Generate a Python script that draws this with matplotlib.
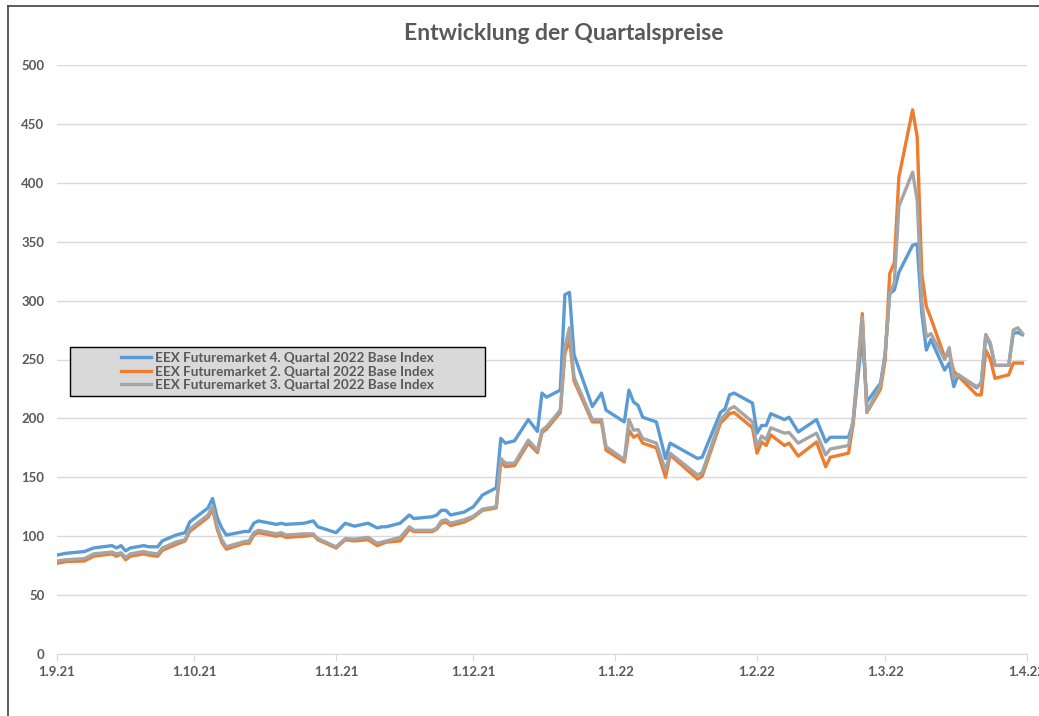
import pandas as pd
import matplotlib
matplotlib.use("Agg")
from matplotlib import pyplot as plt
from matplotlib.patches import Rectangle
from matplotlib.lines import Line2D

# dates of the drawn vertices (trading days)
dates = [
    "2021-09-01", "2021-09-03", "2021-09-07", "2021-09-09", "2021-09-13", "2021-09-14",
    "2021-09-15", "2021-09-16", "2021-09-17", "2021-09-20", "2021-09-21", "2021-09-23",
    "2021-09-24", "2021-09-27", "2021-09-29", "2021-09-30", "2021-10-04", "2021-10-05",
    "2021-10-06", "2021-10-07", "2021-10-08", "2021-10-12", "2021-10-13", "2021-10-14",
    "2021-10-15", "2021-10-19", "2021-10-20", "2021-10-21", "2021-10-25", "2021-10-27",
    "2021-10-28", "2021-11-01", "2021-11-03", "2021-11-05", "2021-11-08", "2021-11-10",
    "2021-11-11", "2021-11-12", "2021-11-15", "2021-11-17", "2021-11-18", "2021-11-22",
    "2021-11-23", "2021-11-24", "2021-11-25", "2021-11-26", "2021-11-29", "2021-12-01",
    "2021-12-03", "2021-12-06", "2021-12-07", "2021-12-08", "2021-12-10", "2021-12-13",
    "2021-12-15", "2021-12-16", "2021-12-17", "2021-12-20", "2021-12-21", "2021-12-22",
    "2021-12-23", "2021-12-27", "2021-12-29", "2021-12-30", "2022-01-03", "2022-01-04",
    "2022-01-05", "2022-01-06", "2022-01-07", "2022-01-10", "2022-01-12", "2022-01-13",
    "2022-01-19", "2022-01-20", "2022-01-24", "2022-01-25", "2022-01-26", "2022-01-27",
    "2022-01-31", "2022-02-01", "2022-02-02", "2022-02-03", "2022-02-04", "2022-02-07",
    "2022-02-08", "2022-02-10", "2022-02-14", "2022-02-16", "2022-02-17", "2022-02-21",
    "2022-02-22", "2022-02-24", "2022-02-25", "2022-02-28", "2022-03-01", "2022-03-02",
    "2022-03-03", "2022-03-04", "2022-03-07", "2022-03-08", "2022-03-09", "2022-03-10",
    "2022-03-11", "2022-03-14", "2022-03-15", "2022-03-16", "2022-03-17", "2022-03-21",
    "2022-03-22", "2022-03-23", "2022-03-24", "2022-03-25", "2022-03-28", "2022-03-29",
    "2022-03-30", "2022-03-31",
]

q4 = [
    84, 85.5, 87, 90, 92, 90, 92, 87.5, 90, 92, 91, 91,
    96, 101, 103, 112, 124, 132, 116, 107, 101, 104, 104, 111,
    113, 110, 111, 110, 111, 113, 108, 103, 111, 108.5, 111, 107,
    108, 108, 111, 118, 115, 116.5, 118, 122, 122, 118, 120.5, 125,
    135, 141, 183, 179, 181, 199, 189, 221.5, 218, 224, 305, 307,
    254, 210, 221.5, 207, 197, 224, 214, 211, 201, 197, 166, 179,
    166, 167, 205, 208, 220, 221.5, 213, 187.5, 194, 194, 204, 199,
    201, 188.5, 199, 180, 184, 184, 197, 270, 214, 230, 255, 306,
    309, 324, 347, 348, 290, 258, 267, 241, 247, 227, 237, 226,
    230, 271, 262, 245, 245, 272, 273, 271,
]

q2 = [
    77, 78.5, 79, 83, 85, 83, 85, 80, 83, 85, 84, 83,
    88, 93, 96, 104, 116, 123, 106, 95, 89, 94, 94, 101,
    103, 100, 101, 99, 100, 101, 97, 90, 97, 96, 97, 92,
    93.5, 95, 96, 106, 104, 104, 106, 111, 112, 109, 112, 116,
    122, 124, 163, 159, 160, 179, 171, 188, 191, 205, 255, 267,
    232, 197, 197, 173, 163, 190, 184, 186, 179, 175, 150, 169,
    148.5, 151, 196, 200, 204, 205, 192, 170.5, 180, 177, 186, 177,
    179, 168, 180, 159, 167, 170.5, 195, 289, 205, 225, 250, 323,
    332, 405, 462, 439, 323, 295, 285, 252, 255, 240, 236, 220,
    220, 258, 250, 234, 237, 247, 247, 247,
]

q3 = [
    79, 80, 81, 85, 86.5, 85, 86, 82, 85, 87, 86, 85,
    90, 95, 97, 106, 118, 125, 108, 97, 91, 95.5, 96, 103,
    105, 102, 103, 101, 102, 102, 98, 91, 98, 97.5, 99, 94,
    95, 96, 99, 108, 105, 105, 107, 113, 114, 111, 114, 117,
    123, 125, 166, 162, 162, 181.5, 173, 190, 193, 207, 260, 277,
    235, 199, 199, 176, 165, 199, 190, 190.5, 183, 179, 156, 170.5,
    152, 154, 199, 203, 208, 210, 197, 176, 185, 182, 192, 187.5,
    188, 179, 187.5, 169, 174, 177, 199, 286, 206, 228, 255, 306,
    315, 380, 409, 385, 300, 269, 272, 250, 260, 234, 237, 227,
    230, 271, 264, 245, 245, 275, 277, 272,
]

series_names = [
    "EEX Futuremarket 4. Quartal 2022 Base Index",
    "EEX Futuremarket 2. Quartal 2022 Base Index",
    "EEX Futuremarket 3. Quartal 2022 Base Index",
]
series_colors = ["#5b9bd5", "#ed7d31", "#a5a5a5"]

tick_dates = ["2021-09-01", "2021-10-01", "2021-11-01", "2021-12-01",
              "2022-01-01", "2022-02-01", "2022-03-01", "2022-04-01"]
tick_labels = ["1.9.21", "1.10.21", "1.11.21", "1.12.21", "1.1.22", "1.2.22", "1.3.22", "1.4.22"]

plt.rcParams["font.family"] = ["Lato", "DejaVu Sans"]
text_color = "#595959"

x = pd.to_datetime(dates)

fig = plt.figure(figsize=(10.39, 7.16), dpi=100)
ax = fig.add_axes([57 / 1039, 1 - 654 / 716, 970 / 1039, 589 / 716])

for vals, name, col in zip([q4, q2, q3], series_names, series_colors):
    ax.plot(x, vals, color=col, lw=2.4, label=name, solid_joinstyle="round", zorder=3)

ax.set_xlim(pd.Timestamp("2021-09-01"), pd.Timestamp("2022-04-01"))
ax.set_ylim(0, 500)
ax.set_yticks(range(0, 501, 50))
ax.set_xticks(pd.to_datetime(tick_dates))
ax.set_xticklabels(tick_labels)
ax.grid(axis="y", color="#d9d9d9", lw=1)
ax.set_axisbelow(True)
for s in ["top", "right", "left"]:
    ax.spines[s].set_visible(False)
ax.spines["bottom"].set_color("#d9d9d9")
ax.tick_params(axis="y", length=0, labelsize=9.5, labelcolor=text_color, pad=9)
ax.tick_params(axis="x", length=5, color="#d9d9d9", labelsize=9.5, labelcolor=text_color, pad=4)
for t in ax.get_xticklabels() + ax.get_yticklabels():
    t.set_fontweight("bold")

fig.text(0.543, 1 - 33 / 716, "Entwicklung der Quartalspreise", ha="center", va="center",
         fontsize=16.5, fontweight="bold", color=text_color)

# legend box
ax.add_patch(Rectangle((13 / 970, (654 - 396) / 589), 415 / 970, 49 / 589, transform=ax.transAxes,
                       facecolor="#d9d9d9", edgecolor="black", lw=1, zorder=4))
handles = [Line2D([], [], color=c, lw=2.4) for c in series_colors]
leg = ax.legend(handles, series_names, loc="center", bbox_to_anchor=(220.5 / 970, (654 - 371.5) / 589),
                frameon=False, fontsize=9.7, handlelength=2.2, handletextpad=0.3, labelspacing=0.12,
                borderpad=0)
leg.set_zorder(5)
for t in leg.get_texts():
    t.set_color(text_color)
    t.set_fontweight("bold")

# chart border
fig.add_artist(Line2D([8 / 1039, 8 / 1039], [0, 1 - 6 / 716], color="#404040", lw=1.2, transform=fig.transFigure))
fig.add_artist(Line2D([8 / 1039, 1], [1 - 6 / 716, 1 - 6 / 716], color="#404040", lw=1.2, transform=fig.transFigure))

fig.savefig("out.png", dpi=100)
